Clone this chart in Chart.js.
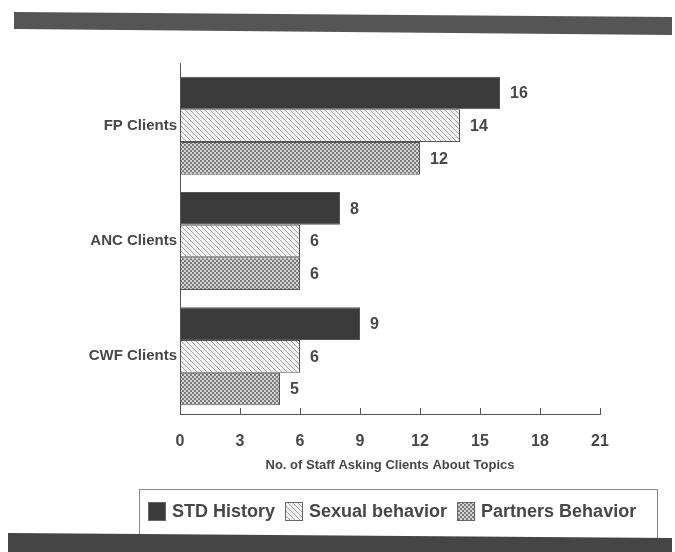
<!DOCTYPE html>
<html>
<head>
<meta charset="utf-8">
<script src="https://cdn.jsdelivr.net/npm/chart.js@4"></script>
<style>
  body { margin: 0; background: #fff; }
  #wrap { width: 675px; height: 552px; }
</style>
</head>
<body>
<div id="wrap"><canvas id="grafico" width="675" height="552"></canvas></div>
<script>
// dados
const categorias = ['FP Clients', 'ANC Clients', 'CWF Clients'];
const stdHistory = [16, 8, 9];
const sexualBehavior = [14, 6, 6];
const partnersBehavior = [12, 6, 5];
const seriesNomes = ['STD History', 'Sexual behavior', 'Partners Behavior'];
const eixoX = { min: 0, max: 21, passo: 3 };
const tituloEixo = 'No. of Staff Asking Clients About Topics';

const corTexto = '#474747';
const fonte = "'Liberation Sans', Arial, sans-serif";

// padrões de preenchimento (hachura e pontilhado)
function padraoHachura() {
    const c = document.createElement('canvas');
    c.width = 5; c.height = 5;
    const g = c.getContext('2d');
    g.fillStyle = '#f4f4f4';
    g.fillRect(0, 0, 5, 5);
    g.strokeStyle = '#a4a4a4';
    g.lineWidth = 1;
    g.beginPath();
    g.moveTo(-1, -1); g.lineTo(6, 6);
    g.moveTo(-1, 4); g.lineTo(1, 6);
    g.moveTo(4, -1); g.lineTo(6, 1);
    g.stroke();
    return g.createPattern(c, 'repeat');
}

function padraoPontos() {
    const c = document.createElement('canvas');
    c.width = 4; c.height = 4;
    const g = c.getContext('2d');
    g.fillStyle = '#d4d4d4';
    g.fillRect(0, 0, 4, 4);
    g.fillStyle = '#7a7a7a';
    g.fillRect(0, 0, 2, 2);
    g.fillRect(2, 2, 2, 2);
    return g.createPattern(c, 'repeat');
}

const preenchimentos = ['#3b3b3b', padraoHachura(), padraoPontos()];

// faixas escuras, marcas do eixo, rótulos e legenda
const decoracao = {
    id: 'decoracao',
    afterDraw(chart) {
        const ctx = chart.ctx;
        const area = chart.chartArea;
        const x = chart.scales.x;
        ctx.save();

        // eixo y um pouco acima da área
        ctx.strokeStyle = '#555';
        ctx.lineWidth = 1;
        const ex = Math.round(area.left) + 0.5;
        ctx.beginPath();
        ctx.moveTo(ex, area.top - 5);
        ctx.lineTo(ex, area.top);
        ctx.stroke();

        // marcas do eixo x para cima
        for (let v = eixoX.min + eixoX.passo; v <= eixoX.max; v += eixoX.passo) {
            const px = Math.round(x.getPixelForValue(v)) + 0.5;
            ctx.beginPath();
            ctx.moveTo(px, area.bottom);
            ctx.lineTo(px, area.bottom - 6);
            ctx.stroke();
        }

        // valores ao lado das barras
        ctx.fillStyle = corTexto;
        ctx.font = 'bold 16px ' + fonte;
        ctx.textBaseline = 'middle';
        ctx.textAlign = 'left';
        chart.data.datasets.forEach((ds, i) => {
            chart.getDatasetMeta(i).data.forEach((bar, j) => {
                ctx.fillText(ds.data[j], bar.x + 10, bar.y + 1);
            });
        });

        // legenda
        const caixa = { x: 139, y: 489, w: 518, h: 50 };
        ctx.strokeStyle = '#8a8a8a';
        ctx.strokeRect(caixa.x + 0.5, caixa.y + 0.5, caixa.w, caixa.h);
        ctx.font = 'bold 18px ' + fonte;
        let lx = 148;
        const cy = 511;
        chart.data.datasets.forEach((ds, i) => {
            ctx.fillStyle = ds.backgroundColor;
            ctx.fillRect(lx, cy - 9, 18, 19);
            ctx.strokeStyle = '#666';
            ctx.strokeRect(lx + 0.5, cy - 8.5, 17, 18);
            ctx.fillStyle = corTexto;
            ctx.fillText(ds.label, lx + 24, cy + 1);
            lx += 24 + ctx.measureText(ds.label).width + 10;
        });

        // faixas
        ctx.fillStyle = '#555';
        ctx.beginPath();
        ctx.moveTo(14, 12); ctx.lineTo(672, 17); ctx.lineTo(672, 35); ctx.lineTo(14, 29);
        ctx.closePath(); ctx.fill();
        ctx.fillStyle = '#454545';
        ctx.beginPath();
        ctx.moveTo(8, 533); ctx.lineTo(672, 538); ctx.lineTo(672, 552); ctx.lineTo(8, 552);
        ctx.closePath(); ctx.fill();
        ctx.restore();
    }
};

const ctx = document.getElementById('grafico').getContext('2d');
const grafico = new Chart(ctx, {
    type: 'bar',
    data: {
        labels: categorias,
        datasets: [stdHistory, sexualBehavior, partnersBehavior].map((dados, i) => ({
            label: seriesNomes[i],
            data: dados,
            backgroundColor: preenchimentos[i],
            borderColor: '#555',
            borderWidth: 1,
            borderSkipped: false
        }))
    },
    options: {
        indexAxis: 'y',
        responsive: false,
        animation: false,
        categoryPercentage: 0.85,
        barPercentage: 1,
        layout: { padding: { left: 0, right: 75, top: 68, bottom: 74 } },
        plugins: {
            legend: { display: false },
            tooltip: { enabled: false }
        },
        scales: {
            x: {
                min: eixoX.min,
                max: eixoX.max,
                ticks: {
                    stepSize: eixoX.passo,
                    color: corTexto,
                    padding: 18,
                    font: { family: fonte, size: 16, weight: 'bold' }
                },
                grid: { display: false, drawTicks: false },
                border: { display: true, color: '#555', width: 1 },
                title: {
                    display: true,
                    text: tituloEixo,
                    color: corTexto,
                    padding: { top: 0, bottom: 5 },
                    font: { family: fonte, size: 13, weight: 'bold' }
                },
                afterFit(escala) { escala.height = 64; }
            },
            y: {
                ticks: {
                    color: corTexto,
                    padding: 3,
                    font: { family: fonte, size: 15, weight: 'bold' }
                },
                grid: { display: false, drawTicks: false },
                border: { display: true, color: '#555', width: 1 },
                afterFit(escala) { escala.width = 180; }
            }
        }
    },
    plugins: [decoracao]
});
</script>
</body>
</html>
